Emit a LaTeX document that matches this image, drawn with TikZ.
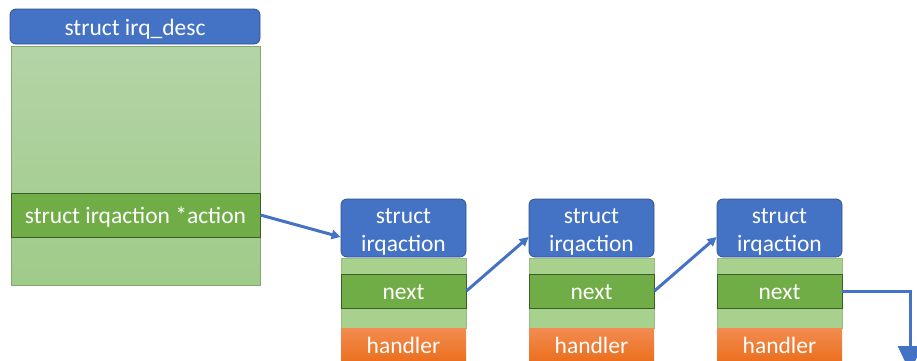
\documentclass[tikz,border=0pt]{standalone}
\usepackage{fontspec}
\setmainfont{Carlito}
\usetikzlibrary{arrows.meta,positioning}

\definecolor{hdrblue}{HTML}{4472C4}
\definecolor{hdrline}{HTML}{2F528F}
\definecolor{bodytop}{HTML}{B4D4A7}
\definecolor{bodybot}{HTML}{9FCB89}
\definecolor{band}{HTML}{A9D18E}
\definecolor{fieldgreen}{HTML}{70AD47}
\definecolor{fieldline}{HTML}{3A5F27}
\definecolor{hndtop}{HTML}{F28C50}
\definecolor{hndbot}{HTML}{EB6F1E}

\begin{document}
\begin{tikzpicture}[x=1pt, y=-1pt,
  lbl/.style={text=white, inner sep=0pt, font=\fontsize{23.5}{28}\selectfont},
  oneline/.style={text height=22pt, text depth=4.5pt},
  hdr/.style={lbl, draw=hdrline, fill=hdrblue, rounded corners=6pt, line width=0.8pt,
              align=center},
  body/.style={draw=band!80!black, line width=0.5pt, top color=bodytop, bottom color=bodybot,
               inner sep=0pt},
  bandbox/.style={draw=band!90!black, line width=0.4pt, fill=band, inner sep=0pt},
  field/.style={lbl, oneline, draw=fieldline, fill=fieldgreen, line width=0.8pt},
  hnd/.style={lbl, oneline, top color=hndtop, bottom color=hndbot},
  arr/.style={draw=hdrblue, line width=3pt, -{Triangle[length=9pt, width=9pt]}}
]
  \useasboundingbox (0,0) rectangle (917,360);

  % struct irq_desc
  \node[hdr, oneline, minimum width=250pt, minimum height=35pt] (desc) at (135,26.5)
    {struct irq\_desc};
  \node[body, minimum width=249pt, minimum height=239pt] (descbody) at (135.5,165.5) {};
  \node[field, minimum width=249pt, minimum height=44pt] (act) at (135.5,215)
    {struct irqaction *action};

  % the irqaction chain
  \foreach \i/\x in {1/403.5, 2/591.5, 3/779.5} {
    \node[bandbox, minimum width=125pt, minimum height=70pt] (band\i) at (\x,293) {};
    \node[hdr, minimum width=125pt, minimum height=58pt] (hdr\i) at (\x,228)
      {\rule{0pt}{1em}struct\\irqaction};
    \node[field, minimum width=125pt, minimum height=34pt] (next\i) at (\x,291) {next};
    \node[hnd, minimum width=125pt, minimum height=34pt] (hnd\i) at (\x,345) {handler};
  }

  \coordinate (tail) at (910,372);

  \draw[arr] (act.east) -- ([yshift=-9pt]hdr1.west);
  \draw[arr] (next1.east) -- ([yshift=-9pt]hdr2.west);
  \draw[arr] (next2.east) -- ([yshift=-9pt]hdr3.west);
  \draw[draw=hdrblue, line width=3pt, -{Triangle[length=26pt, width=24pt]}]
    (next3.east) -| (tail);
\end{tikzpicture}
\end{document}
